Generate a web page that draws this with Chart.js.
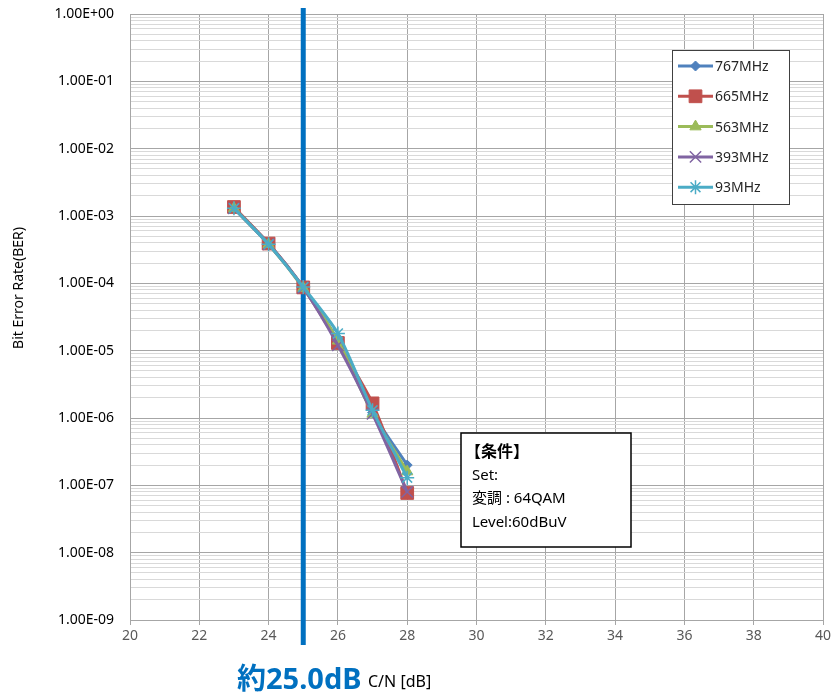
<!DOCTYPE html>
<html>
<head>
<meta charset="utf-8">
<script src="https://cdn.jsdelivr.net/npm/chart.js@4/dist/chart.umd.min.js"></script>
<style>
  html, body { margin: 0; padding: 0; background: #fff; }
  #wrap { width: 833px; height: 693px; }
</style>
</head>
<body>
<div id="wrap"><canvas id="myChart" width="833" height="693"></canvas></div>
<script>
// C/N [dB] on x, BER on y
const cn = [23, 24, 25, 26, 27, 28]
const ber767 = [1.30e-3, 3.9e-4, 8.8e-5, 1.4e-5, 1.20e-6, 2.0e-7]
const ber665 = [1.36e-3, 3.9e-4, 8.7e-5, 1.3e-5, 1.65e-6, 7.7e-8]
const ber563 = [1.30e-3, 3.8e-4, 8.5e-5, 1.4e-5, 1.15e-6, 1.6e-7]
const ber393 = [1.30e-3, 3.8e-4, 8.6e-5, 1.2e-5, 1.15e-6, 8.0e-8]
const ber93 = [1.30e-3, 3.8e-4, 8.8e-5, 1.8e-5, 1.30e-6, 1.3e-7]

const seriesLabels = ['767MHz', '665MHz', '563MHz', '393MHz', '93MHz']
const seriesValues = [ber767, ber665, ber563, ber393, ber93]
const seriesColors = ['#4F81BD', '#C0504D', '#9BBB59', '#8064A2', '#4BACC6']
const seriesMarkers = ['rectRot', 'rect', 'triangle', 'crossRot', 'star']
const markerRadius = [5, 9, 6.5, 8, 7]

const xTicks = [20, 22, 24, 26, 28, 30, 32, 34, 36, 38, 40]
const yExpMin = -9
const yExpMax = 0
const markerCN = 25 // 約25.0dB

const yTitle = 'Bit Error Rate(BER)'
const noteLines = ['【条件】', 'Set:', '変調 : 64QAM', 'Level:60dBuV']

const fontFam = '"Noto Sans", "Noto Sans CJK JP", sans-serif'
const majorGrid = '#a6a6a6'
const minorGrid = '#d9d9d9'

function isDecade(v) {
    const e = Math.round(Math.log10(v))
    return Math.abs(v - Math.pow(10, e)) < 1e-6 * v
}

function fmtE(v) {
    const e = Math.round(Math.log10(v))
    const s = e < 0 ? '-' : '+'
    return '1.00E' + s + String(Math.abs(e)).padStart(2, '0')
}

// later series on top, like excel
const datasets = seriesLabels.map((label, i) => ({
    label: label,
    data: cn.map((x, j) => ({ x: x, y: seriesValues[i][j] })),
    order: seriesLabels.length - i,
    borderColor: seriesColors[i],
    backgroundColor: seriesColors[i],
    pointStyle: seriesMarkers[i],
    pointRadius: markerRadius[i],
    pointBorderWidth: (seriesMarkers[i] == 'crossRot' || seriesMarkers[i] == 'star') ? 1.5 : 1,
    borderWidth: 3,
    tension: 0.25,
    fill: false
}))

const overlay = {
    id: 'overlay',
    beforeDatasetsDraw(chart) {
        const ctx = chart.ctx
        const xs = chart.scales.x
        const px = xs.getPixelForValue(markerCN)
        ctx.save()
        ctx.strokeStyle = '#0070C0'
        ctx.lineWidth = 5
        ctx.beginPath()
        ctx.moveTo(px, 8)
        ctx.lineTo(px, 645)
        ctx.stroke()
        ctx.restore()
    },
    afterDraw(chart) {
        const ctx = chart.ctx
        ctx.save()

        // y title
        ctx.save()
        ctx.translate(19, 288)
        ctx.rotate(-Math.PI / 2)
        ctx.fillStyle = '#000'
        ctx.font = '14px ' + fontFam
        ctx.textAlign = 'center'
        ctx.textBaseline = 'middle'
        ctx.fillText(yTitle, 0, 0)
        ctx.restore()

        // legend
        const lx = 672, ly = 50, lw = 117, lh = 154
        ctx.fillStyle = '#fff'
        ctx.fillRect(lx, ly, lw, lh)
        ctx.strokeStyle = '#404040'
        ctx.lineWidth = 1
        ctx.strokeRect(lx + 0.5, ly + 0.5, lw, lh)
        chart.data.datasets.forEach((ds, i) => {
            const y = 66 + i * 30.3
            ctx.strokeStyle = ds.borderColor
            ctx.lineWidth = 3
            ctx.beginPath()
            ctx.moveTo(678, y)
            ctx.lineTo(713, y)
            ctx.stroke()
            ctx.fillStyle = ds.borderColor
            ctx.strokeStyle = ds.borderColor
            ctx.lineWidth = ds.pointBorderWidth
            Chart.helpers.drawPoint(ctx, {
                pointStyle: ds.pointStyle,
                radius: ds.pointRadius,
                rotation: 0,
                borderWidth: ds.pointBorderWidth
            }, 695.5, y)
            ctx.fillStyle = '#262626'
            ctx.font = '14px ' + fontFam
            ctx.textAlign = 'left'
            ctx.textBaseline = 'middle'
            ctx.fillText(ds.label, 715, y + 1)
        })

        // condition box
        const bx = 461, by = 433, bw = 170, bh = 114
        ctx.fillStyle = '#fff'
        ctx.fillRect(bx, by, bw, bh)
        ctx.strokeStyle = '#000'
        ctx.lineWidth = 1.5
        ctx.strokeRect(bx, by, bw, bh)
        ctx.fillStyle = '#000'
        ctx.textAlign = 'left'
        ctx.textBaseline = 'middle'
        noteLines.forEach((t, i) => {
            ctx.font = (i == 0 ? 'bold 16px ' : '15px ') + fontFam
            ctx.fillText(t, i == 0 ? 465 : 472, 452 + i * 23.5)
        })

        // x axis caption
        ctx.textBaseline = 'alphabetic'
        ctx.fillStyle = '#0070C0'
        ctx.font = 'bold 29px ' + fontFam
        ctx.fillText('約' + markerCN.toFixed(1) + 'dB', 237, 689)
        ctx.fillStyle = '#000'
        ctx.font = '16px ' + fontFam
        ctx.fillText('C/N [dB]', 368, 687)
        ctx.restore()
    }
}

const config = {
    type: 'line',
    data: { datasets: datasets },
    options: {
        responsive: false,
        animation: false,
        layout: { padding: { top: 14, right: 8, left: 0, bottom: 0 } },
        plugins: {
            legend: { display: false },
            tooltip: { enabled: false }
        },
        scales: {
            x: {
                type: 'linear',
                min: 20,
                max: 40,
                afterBuildTicks: (scale) => { scale.ticks = xTicks.map(v => ({ value: v })) },
                afterFit: (scale) => {
                    scale.height = 73
                    scale.paddingLeft = 0
                    scale.paddingRight = 0
                },
                ticks: {
                    color: '#595959',
                    font: { family: fontFam, size: 14 },
                    padding: 3,
                    maxRotation: 0
                },
                grid: { color: majorGrid, tickLength: 5, drawTicks: true },
                border: { color: majorGrid }
            },
            y: {
                type: 'logarithmic',
                min: Math.pow(10, yExpMin),
                max: Math.pow(10, yExpMax),
                afterBuildTicks: (scale) => {
                    const t = []
                    for (let e = yExpMin; e < yExpMax; e++) {
                        for (let m = 1; m < 10; m++) t.push({ value: m * Math.pow(10, e) })
                    }
                    t.push({ value: Math.pow(10, yExpMax) })
                    scale.ticks = t
                },
                afterFit: (scale) => {
                    scale.width = 130
                    scale.paddingTop = 0
                    scale.paddingBottom = 0
                },
                ticks: {
                    autoSkip: false,
                    color: '#000',
                    font: { family: fontFam, size: 14 },
                    padding: 16,
                    callback: (v) => isDecade(v) ? fmtE(v) : ''
                },
                grid: {
                    drawTicks: false,
                    color: (c) => (c.tick && isDecade(c.tick.value)) ? majorGrid : minorGrid
                },
                border: { color: majorGrid }
            }
        }
    },
    plugins: [overlay]
}

const myChart = new Chart(document.getElementById('myChart'), config)
</script>
</body>
</html>
